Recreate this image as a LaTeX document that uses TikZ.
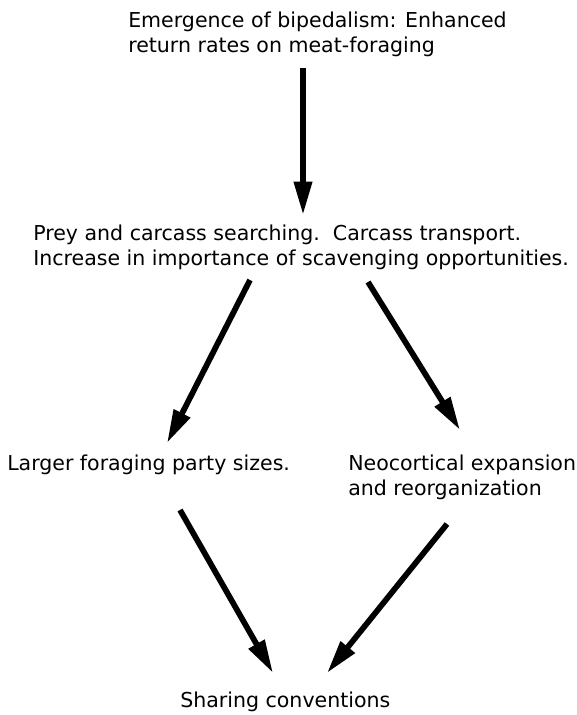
\documentclass[tikz,border=0pt]{standalone}
\usepackage{fontspec}
\setmainfont{DejaVu Sans}
\usetikzlibrary{arrows.meta,calc}
\tikzset{
  txt/.style={anchor=north west,inner sep=0pt,align=left,font=\fontsize{15.4}{18.75}\selectfont},
  flow/.style={line width=4.3pt,-{Triangle[length=25pt,width=13pt]}}
}
\begin{document}
\begin{tikzpicture}[x=0.75pt,y=0.75pt,yscale=-1,xscale=1]
\useasboundingbox (0,0) rectangle (577,715);
% texts
\node[txt] (top) at (128,11.4) {Emergence of bipedalism: Enhanced\\return rates on meat-foraging};
\node[txt] (mid) at (33,224.4) {Prey and carcass searching.\ \ Carcass transport.\\Increase in importance of scavenging opportunities.};
\node[txt] (party) at (7,454.4) {Larger foraging party sizes.};
\node[txt] (neo) at (348,454.4) {Neocortical expansion\\and reorganization};
\node[txt] (share) at (180,691.4) {Sharing conventions};
% arrows
\draw[flow] ($(top.south west)+(175,11.2)$) -- ($(mid.north west)+(270,-9.4)$);
\draw[flow] ($(mid.south west)+(217,10.2)$) -- ($(party.north west)+(160,-11.4)$);
\draw[flow] ($(mid.south west)+(335,12.2)$) -- ($(neo.north west)+(112,-24.4)$);
\draw[flow] ($(party.south west)+(173,35.2)$) -- ($(share.north west)+(93,-18.4)$);
\draw[flow] ($(neo.south west)+(99,24.2)$) -- ($(share.north west)+(147,-18.4)$);
\end{tikzpicture}
\end{document}
